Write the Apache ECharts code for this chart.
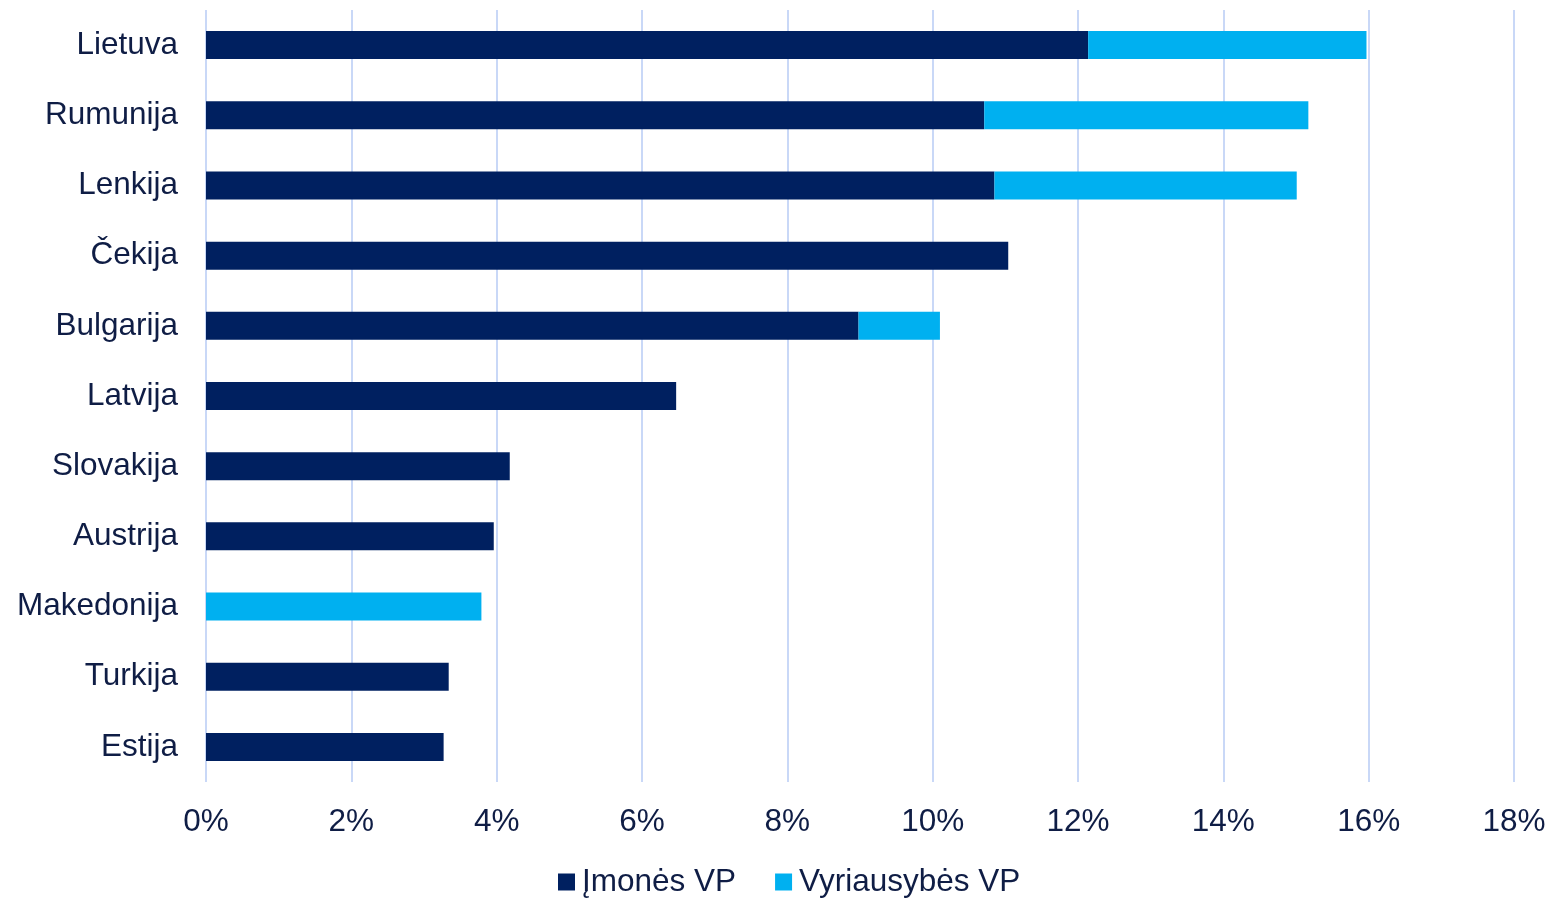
<!DOCTYPE html>
<html>
<head>
<meta charset="utf-8">
<script src="https://cdn.jsdelivr.net/npm/echarts@6/dist/echarts.min.js"></script>
<style>
html,body{margin:0;padding:0;background:#fff;}
#chart{width:1550px;height:898px;}
</style>
</head>
<body>
<div id="chart"></div>
<script>
var categories = ['Lietuva','Rumunija','Lenkija','Čekija','Bulgarija','Latvija','Slovakija','Austrija','Makedonija','Turkija','Estija'];
var imonesVP = [12.14, 10.71, 10.85, 11.04, 8.98, 6.47, 4.18, 3.96, 0, 3.34, 3.27];
var vyriausybesVP = [3.83, 4.46, 4.16, 0, 1.12, 0, 0, 0, 3.79, 0, 0];
var xTicks = [0, 2, 4, 6, 8, 10, 12, 14, 16, 18];

var textColor = '#0f1d45';
var font = 'Liberation Sans, Arial, sans-serif';
var fs = 31.5;
var chart = echarts.init(document.getElementById('chart'));
chart.setOption({
  animation: false,
  grid: {left: 206, right: 36, top: 10, bottom: 116, containLabel: false},
  legend: {
    data: ['Įmonės VP', 'Vyriausybės VP'],
    top: 861,
    left: 553,
    icon: 'rect',
    itemWidth: 17,
    itemHeight: 17,
    itemGap: 39,
    textStyle: {fontFamily: font, fontSize: fs, color: textColor, padding: [0,0,0,2]}
  },
  xAxis: {
    type: 'value',
    min: xTicks[0],
    max: xTicks[xTicks.length - 1],
    interval: 2,
    axisLine: {show: false},
    axisTick: {show: false},
    splitLine: {show: true, lineStyle: {color: '#c9d8f7', width: 2}},
    axisLabel: {
      fontFamily: font, fontSize: fs, color: textColor, margin: 24,
      formatter: function (v) { return v + '%'; }
    }
  },
  yAxis: {
    type: 'category',
    data: categories,
    inverse: true,
    axisLine: {show: false},
    axisTick: {show: false},
    splitLine: {show: false},
    axisLabel: {fontFamily: font, fontSize: fs, color: textColor, margin: 28, padding: [8,0,0,0]}
  },
  series: [
    {name: 'Įmonės VP', type: 'bar', stack: 'total', data: imonesVP, barWidth: 28,
     itemStyle: {color: '#002060'}},
    {name: 'Vyriausybės VP', type: 'bar', stack: 'total', data: vyriausybesVP, barWidth: 28,
     itemStyle: {color: '#00b0f0'}}
  ]
});
</script>
</body>
</html>
